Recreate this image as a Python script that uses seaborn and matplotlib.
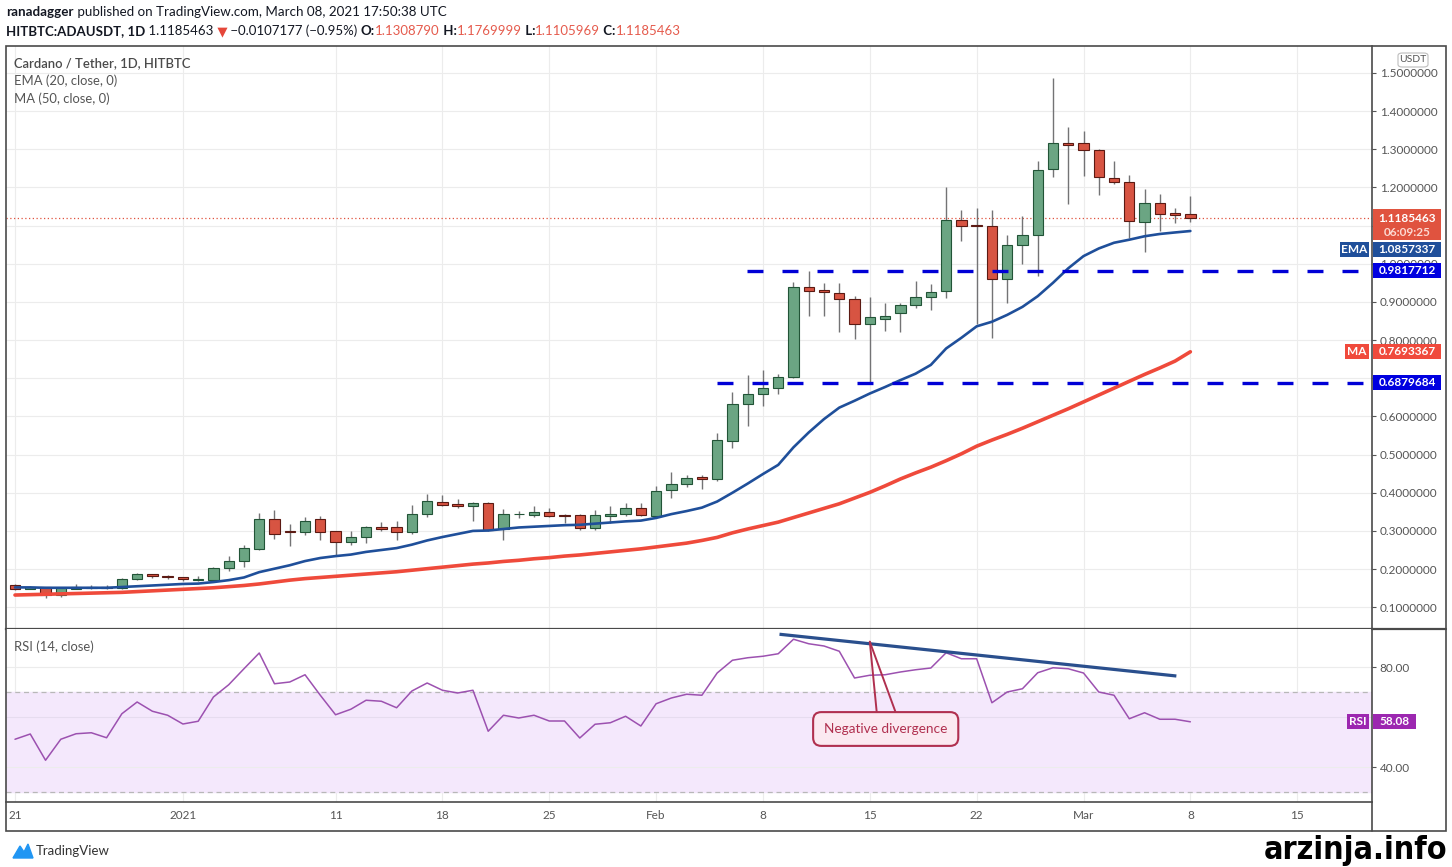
import numpy as np
import pandas as pd
import matplotlib
matplotlib.use("Agg")
import matplotlib.pyplot as plt
import matplotlib.dates as mdates
from matplotlib.lines import Line2D
from matplotlib.patches import Rectangle, FancyBboxPatch, Polygon
import seaborn as sns

# ---------------- data ----------------
dates = pd.date_range("2020-12-21", "2021-03-08", freq="D")

opens = [0.157, 0.149, 0.152, 0.131, 0.149, 0.150, 0.153, 0.150, 0.173, 0.186, 0.182,
         0.179, 0.172, 0.172, 0.202, 0.221, 0.253, 0.330, 0.297, 0.298, 0.330,
         0.299, 0.271, 0.284, 0.310, 0.310, 0.297, 0.345, 0.377, 0.371, 0.365,
         0.372, 0.304, 0.343, 0.342, 0.349, 0.342, 0.341, 0.308, 0.340, 0.345, 0.361,
         0.340, 0.406, 0.424, 0.440, 0.437, 0.535, 0.632, 0.660, 0.674, 0.704,
         0.939, 0.932, 0.923, 0.908, 0.843, 0.855, 0.870, 0.892, 0.914, 0.928,
         1.115, 1.102, 1.098, 0.959, 1.050, 1.074, 1.249, 1.317, 1.317, 1.298,
         1.224, 1.215, 1.109, 1.160, 1.133, 1.1308790]
highs = [0.160, 0.155, 0.153, 0.152, 0.161, 0.157, 0.158, 0.176, 0.190, 0.188, 0.184,
         0.180, 0.181, 0.206, 0.235, 0.262, 0.346, 0.355, 0.318, 0.336, 0.340,
         0.300, 0.300, 0.314, 0.323, 0.325, 0.367, 0.396, 0.393, 0.384, 0.375,
         0.375, 0.358, 0.353, 0.365, 0.360, 0.344, 0.343, 0.354, 0.365, 0.373, 0.374,
         0.418, 0.454, 0.446, 0.446, 0.556, 0.663, 0.709, 0.722, 0.712, 0.952,
         0.980, 0.950, 0.950, 0.915, 0.912, 0.898, 0.898, 0.956, 0.948, 1.200,
         1.140, 1.146, 1.142, 1.076, 1.124, 1.270, 1.487, 1.359, 1.348, 1.300,
         1.268, 1.233, 1.196, 1.182, 1.146, 1.1769999]
lows = [0.146, 0.147, 0.123, 0.128, 0.147, 0.148, 0.147, 0.149, 0.171, 0.176, 0.174,
        0.170, 0.168, 0.170, 0.195, 0.205, 0.249, 0.280, 0.260, 0.290, 0.275,
        0.235, 0.262, 0.268, 0.300, 0.275, 0.293, 0.336, 0.364, 0.359, 0.326,
        0.300, 0.275, 0.334, 0.336, 0.336, 0.322, 0.303, 0.303, 0.322, 0.340, 0.338,
        0.337, 0.387, 0.416, 0.410, 0.432, 0.518, 0.576, 0.628, 0.660, 0.700,
        0.863, 0.863, 0.822, 0.803, 0.685, 0.825, 0.820, 0.885, 0.878, 0.911,
        1.060, 0.841, 0.805, 0.898, 1.000, 0.967, 1.228, 1.156, 1.231, 1.180,
        1.208, 1.067, 1.031, 1.085, 1.106, 1.1105969]
closes = [0.149, 0.153, 0.131, 0.150, 0.153, 0.152, 0.150, 0.173, 0.186, 0.181, 0.178,
          0.173, 0.174, 0.202, 0.222, 0.255, 0.330, 0.293, 0.296, 0.327, 0.297,
          0.271, 0.283, 0.310, 0.306, 0.297, 0.345, 0.378, 0.368, 0.366, 0.372,
          0.302, 0.345, 0.345, 0.349, 0.340, 0.338, 0.308, 0.341, 0.344, 0.361, 0.342,
          0.405, 0.424, 0.439, 0.437, 0.537, 0.632, 0.660, 0.674, 0.704, 0.939,
          0.928, 0.925, 0.908, 0.843, 0.860, 0.862, 0.891, 0.912, 0.926, 1.115,
          1.100, 1.098, 0.961, 1.048, 1.074, 1.246, 1.317, 1.311, 1.298, 1.226,
          1.214, 1.113, 1.160, 1.130, 1.129, 1.1185463]
ema20 = [0.152, 0.152, 0.151, 0.151, 0.151, 0.151, 0.151, 0.153, 0.155, 0.157, 0.159,
         0.161, 0.162, 0.166, 0.171, 0.178, 0.192, 0.201, 0.210, 0.221, 0.229,
         0.234, 0.238, 0.245, 0.250, 0.255, 0.264, 0.275, 0.284, 0.292, 0.300,
         0.301, 0.305, 0.309, 0.311, 0.313, 0.315, 0.316, 0.319, 0.322, 0.325, 0.327,
         0.334, 0.344, 0.352, 0.361, 0.377, 0.400, 0.424, 0.449, 0.473, 0.519,
         0.558, 0.593, 0.623, 0.641, 0.660, 0.677, 0.695, 0.712, 0.735, 0.778,
         0.806, 0.836, 0.848, 0.866, 0.887, 0.915, 0.950, 0.988, 1.020, 1.040,
         1.055, 1.063, 1.072, 1.078, 1.082, 1.0857337]
ma50 = [0.132, 0.133, 0.134, 0.135, 0.136, 0.137, 0.138, 0.139, 0.141, 0.143, 0.145,
        0.147, 0.149, 0.151, 0.154, 0.157, 0.161, 0.166, 0.171, 0.175, 0.178,
        0.181, 0.184, 0.187, 0.190, 0.193, 0.197, 0.201, 0.205, 0.209, 0.213,
        0.216, 0.220, 0.223, 0.227, 0.230, 0.234, 0.237, 0.241, 0.245, 0.249, 0.253,
        0.258, 0.263, 0.268, 0.275, 0.283, 0.295, 0.305, 0.314, 0.323, 0.335,
        0.347, 0.359, 0.371, 0.386, 0.401, 0.418, 0.436, 0.452, 0.467, 0.484,
        0.502, 0.522, 0.538, 0.553, 0.569, 0.586, 0.603, 0.620, 0.638, 0.656,
        0.674, 0.692, 0.710, 0.727, 0.745, 0.7693367]
rsi14 = [51.1, 53.2, 42.7, 51.1, 53.3, 53.7, 51.7, 61.3, 66.0, 62.3, 60.7,
         57.2, 58.3, 68.0, 72.9, 79.3, 85.6, 73.3, 74.0, 76.9, 68.7,
         60.9, 63.1, 66.7, 66.3, 63.7, 70.4, 73.6, 70.7, 69.6, 70.7,
         54.3, 60.7, 59.6, 60.7, 58.4, 58.4, 51.6, 57.1, 57.7, 60.3, 56.4,
         65.3, 67.6, 69.1, 68.7, 77.6, 82.7, 83.7, 84.3, 85.3, 91.1,
         89.3, 88.4, 86.3, 75.6, 76.7, 76.9, 78.0, 78.9, 79.6, 85.7,
         83.3, 83.3, 65.7, 70.0, 71.3, 77.7, 79.7, 79.3, 77.6, 70.0,
         68.7, 59.3, 61.7, 59.1, 59.1, 58.08]

last_price = 1.1185463
countdown = "06:09:25"
level_high = 0.9817712
level_low = 0.6879684
level_high_start = "2021-02-06 23:00"
level_low_start = "2021-02-05 00:00"

div_times = ["2021-02-09 02:00", "2021-03-07 02:00"]
div_rsi = [93.1, 76.4]
note_apex = ("2021-02-15 00:00", 90.1)
note_feet = [("2021-02-15 11:00", 61.6), ("2021-02-16 17:00", 61.6)]
note_center = ("2021-02-16 01:00", 55.2)

tick_dates = ["2020-12-21", "2021-01-01", "2021-01-11", "2021-01-18", "2021-01-25",
              "2021-02-01", "2021-02-08", "2021-02-15", "2021-02-22", "2021-03-01",
              "2021-03-08", "2021-03-15"]
tick_labels = ["21", "2021", "11", "18", "25", "Feb", "8", "15", "22", "Mar", "8", "15"]
price_ticks = [0.1, 0.2, 0.3, 0.4, 0.5, 0.6, 0.7, 0.8, 0.9, 1.0, 1.1, 1.2, 1.3, 1.4, 1.5]
rsi_ticks = [40, 80]

df = pd.DataFrame({"date": dates, "open": opens, "high": highs, "low": lows,
                   "close": closes, "ema": ema20, "ma": ma50, "rsi": rsi14})
df["x"] = mdates.date2num(df["date"])

# ---------------- style ----------------
sns.set_style("white")
plt.rcParams["font.family"] = ["Lato", "DejaVu Sans"]

W, H = 1452, 867
fig = plt.figure(figsize=(W / 100, H / 100), dpi=100)
fig.patch.set_facecolor("white")


def fx(px):
    return px / W


def fy(py):
    return 1 - py / H


TXT = "#131722"
AXC = "#555555"
GRID = "#ececec"
FRAME = "#4a4a4a"
UP, UP_E = "#6ba583", "#225437"
DN, DN_E = "#d75442", "#5b1a13"

ax = fig.add_axes([fx(6), fy(629), fx(1372) - fx(6), fy(46) - fy(629)])
axr = fig.add_axes([fx(6), fy(802), fx(1372) - fx(6), fy(629) - fy(802)], sharex=ax)

t0 = mdates.date2num(pd.Timestamp("2020-12-21"))
xlim = (t0 - 0.59, t0 + 88.9)
ax.set_xlim(*xlim)
ax.set_ylim(0.043, 1.5705)
axr.set_ylim(26.0, 95.2)

tick_x = mdates.date2num(pd.to_datetime(tick_dates))

# ---------------- price panel ----------------
for v in price_ticks:
    ax.axhline(v, color=GRID, lw=0.8, zorder=0)
for t in tick_x:
    ax.axvline(t, color=GRID, lw=0.8, zorder=0)
    axr.axvline(t, color=GRID, lw=0.8, zorder=0)

up = df["close"] >= df["open"]
body_lo = np.minimum(df["open"], df["close"])
body_h = np.maximum(np.abs(df["close"] - df["open"]), 0.0025)
ax.vlines(df["x"], df["low"], df["high"], color="#737375", lw=1.0, zorder=2)
ax.bar(df["x"], body_h, bottom=body_lo, width=0.68,
       color=np.where(up, UP, DN), edgecolor=np.where(up, UP_E, DN_E),
       linewidth=0.8, zorder=3)

sns.lineplot(data=df, x="x", y="ma", ax=ax, color="#ef4a3b", linewidth=2.6, zorder=4)
sns.lineplot(data=df, x="x", y="ema", ax=ax, color="#1f4f9a", linewidth=1.9, zorder=4)

ax.axhline(last_price, color="#e0533f", lw=0.9, ls=(0, (1, 2)), zorder=1)
lw_lvl = 2.4
dash = (0, (11.5 / lw_lvl, 13.7 / lw_lvl))
for lvl, start in [(level_high, level_high_start), (level_low, level_low_start)]:
    ax.plot([mdates.date2num(pd.Timestamp(start)), xlim[1]], [lvl, lvl],
            color="#0000d6", lw=lw_lvl, ls=dash, dash_capstyle="butt", zorder=5)

ax.yaxis.tick_right()
ax.set_yticks(price_ticks)
# the 1.1 label is completely covered by the last-price box in the reference
ax.set_yticklabels(["" if abs(v - 1.1) < 1e-9 else f"{v:.7f}" for v in price_ticks])
ax.tick_params(axis="y", direction="out", length=3, width=0.8, color=AXC,
               labelcolor=AXC, labelsize=8.5, pad=2.5)
ax.set_xticks(tick_x)
ax.tick_params(axis="x", length=0, labelbottom=False)
ax.set_xlabel("")
ax.set_ylabel("")
for s in ["top", "left"]:
    ax.spines[s].set_visible(False)
ax.spines["right"].set_color(FRAME)
ax.spines["right"].set_linewidth(1.2)
ax.spines["bottom"].set_color(FRAME)
ax.spines["bottom"].set_linewidth(1.6)

# ---------------- RSI panel ----------------
axr.axhspan(30, 70, color="#f4e8fc", zorder=0)
for v in [40, 60, 80]:
    axr.axhline(v, color=GRID if v != 60 else "#e6dcef", lw=0.8, zorder=0.5)
for v in [30, 70]:
    axr.axhline(v, color="#b8b8b8", lw=0.9, ls=(0, (4, 3)), zorder=1)
sns.lineplot(data=df, x="x", y="rsi", ax=axr, color="#9c51b0", linewidth=1.1, zorder=3)

div_x = mdates.date2num(pd.to_datetime(div_times))
axr.plot(div_x, div_rsi, color="#2a4f8d", lw=2.3, solid_capstyle="butt", zorder=5)
apx = mdates.date2num(pd.Timestamp(note_apex[0]))
for ft, fv in note_feet:
    axr.plot([apx, mdates.date2num(pd.Timestamp(ft))], [note_apex[1], fv],
             color="#b0304f", lw=1.4, zorder=5)
axr.text(mdates.date2num(pd.Timestamp(note_center[0])), note_center[1], "Negative divergence",
         ha="center", va="center", fontsize=9.8, color="#b0304f", zorder=6,
         bbox=dict(boxstyle="round,pad=0.8,rounding_size=0.6", fc="#fbe9f1",
                   ec="#b0304f", lw=1.5))

axr.yaxis.tick_right()
axr.set_yticks(rsi_ticks)
axr.set_yticklabels([f"{v:.2f}" for v in rsi_ticks])
axr.tick_params(axis="y", direction="out", length=3, width=0.8, color=AXC,
                labelcolor=AXC, labelsize=8.5, pad=2.5)
axr.set_xticks(tick_x)
axr.set_xticklabels(tick_labels)
axr.tick_params(axis="x", direction="out", length=3, width=0.8, color=AXC,
                labelcolor=AXC, labelsize=8.5, pad=3)
axr.set_xlabel("")
axr.set_ylabel("")
for s in ["top", "left"]:
    axr.spines[s].set_visible(False)
axr.spines["right"].set_color(FRAME)
axr.spines["right"].set_linewidth(1.2)
axr.spines["bottom"].set_color(FRAME)
axr.spines["bottom"].set_linewidth(1.2)

# ---------------- frame ----------------
fig.add_artist(Rectangle((fx(6), fy(831)), fx(1446) - fx(6), fy(46) - fy(831),
                         transform=fig.transFigure, fill=False, ec=FRAME, lw=1.2))
fig.add_artist(Line2D([fx(1372), fx(1372)], [fy(802), fy(831)], transform=fig.transFigure,
                      color=FRAME, lw=1.2))
fig.add_artist(Line2D([fx(1372), fx(1446)], [fy(629), fy(629)], transform=fig.transFigure,
                      color=FRAME, lw=1.6))


# ---------------- value boxes on the scales ----------------
def img_y(axis, value):
    return H - axis.transData.transform((xlim[0], value))[1]


def box(x0, x1, y0, y1, color):
    fig.add_artist(Rectangle((fx(x0), fy(y1)), fx(x1) - fx(x0), fy(y0) - fy(y1),
                             transform=fig.transFigure, fc=color, ec=color, lw=0, zorder=10))


def value_box(y, text, color, tag=None, tag_left=None, x1=1441):
    box(1373, x1, y - 7.5, y + 7.5, color)
    fig.text(fx((1373 + x1) / 2), fy(y), text, ha="center", va="center", color="white",
             fontsize=8.5, fontweight="bold", zorder=11)
    if tag:
        box(tag_left, 1369, y - 7.5, y + 7.5, color)
        fig.text(fx((tag_left + 1369) / 2), fy(y), tag, ha="center", va="center",
                 color="white", fontsize=8.5, fontweight="bold", zorder=11)


yl = img_y(ax, last_price)
box(1373, 1441, yl - 9, yl + 22, "#e0533f")
fig.text(fx(1407), fy(yl), f"{last_price:.7f}", ha="center", va="center", color="white",
         fontsize=8.5, fontweight="bold", zorder=11)
fig.text(fx(1407), fy(yl + 14), countdown, ha="center", va="center", color="#fcd9d2",
         fontsize=8.5, fontweight="bold", zorder=11)
# EMA label pushed below the last-price label, as the scale does
y_ema = max(img_y(ax, ema20[-1]), yl + 22 + 9)
value_box(y_ema, f"{ema20[-1]:.7f}", "#1f4f9a", "EMA", 1340)
value_box(img_y(ax, level_high), f"{level_high:.7f}", "#0000e0")
value_box(img_y(ax, ma50[-1]), f"{ma50[-1]:.7f}", "#f04a3c", "MA", 1345)
value_box(img_y(ax, level_low), f"{level_low:.7f}", "#0000e0")
value_box(img_y(axr, rsi14[-1]), f"{rsi14[-1]:.2f}", "#9c27b0", "RSI", 1347, x1=1416)

fig.add_artist(FancyBboxPatch((fx(1398), fy(67)), fx(1428) - fx(1398), 14 / H,
                              boxstyle="round,pad=0.0,rounding_size=0.003",
                              transform=fig.transFigure, fc="white", ec="#bdbdbd", lw=0.8,
                              zorder=10))
fig.text(fx(1413), fy(60), "USDT", ha="center", va="center", color=AXC, fontsize=7.5, zorder=11)

# ---------------- texts ----------------
renderer = fig.canvas.get_renderer()


def seq_text(x_px, y_px, parts, size):
    x = x_px
    for s, color, weight in parts:
        t = fig.text(fx(x), fy(y_px), s, color=color, fontsize=size, fontweight=weight,
                     ha="left", va="center")
        x += t.get_window_extent(renderer).width


RED = "#e55b4d"
seq_text(6, 12, [("ranadagger", TXT, "bold"),
                 (" published on TradingView.com, March 08, 2021 17:50:38 UTC", TXT, "normal")], 9.6)
seq_text(6, 31, [("HITBTC:ADAUSDT, 1D", TXT, "bold"), (" 1.1185463", TXT, "normal"),
                 (" ▼", "#e5473a", "normal"), (" \u22120.0107177 (\u22120.95%) ", TXT, "normal"),
                 ("O:", TXT, "bold"), ("1.1308790", RED, "normal"),
                 (" H:", TXT, "bold"), ("1.1769999", RED, "normal"),
                 (" L:", TXT, "bold"), ("1.1105969", RED, "normal"),
                 (" C:", TXT, "bold"), ("1.1185463", RED, "normal")], 9.5)

fig.text(fx(14), fy(63), "Cardano / Tether, 1D, HITBTC", color="#4a4a4a", fontsize=9.4,
         fontweight="semibold", ha="left", va="center")
fig.text(fx(14), fy(81), "EMA (20, close, 0)", color="#555555", fontsize=9.4, ha="left", va="center")
fig.text(fx(14), fy(99), "MA (50, close, 0)", color="#555555", fontsize=9.4, ha="left", va="center")
fig.text(fx(14), fy(647), "RSI (14, close)", color="#555555", fontsize=9.4, ha="left", va="center")

# TradingView logo
fig.add_artist(Polygon([(fx(13), fy(858)), (fx(20), fy(846)), (fx(24), fy(852)),
                        (fx(28), fy(844)), (fx(33), fy(858))], closed=True,
                       transform=fig.transFigure, fc="#2196f3", ec="#2196f3"))
fig.text(fx(36), fy(851), "TradingView", color="#333333", fontsize=9.5, ha="left", va="center")

fig.text(fx(1447), fy(850), "arzinja.info", color="black", fontsize=23, fontweight="bold",
         family="DejaVu Sans", fontstretch="condensed", ha="right", va="center")

fig.savefig("out.png", dpi=100)
